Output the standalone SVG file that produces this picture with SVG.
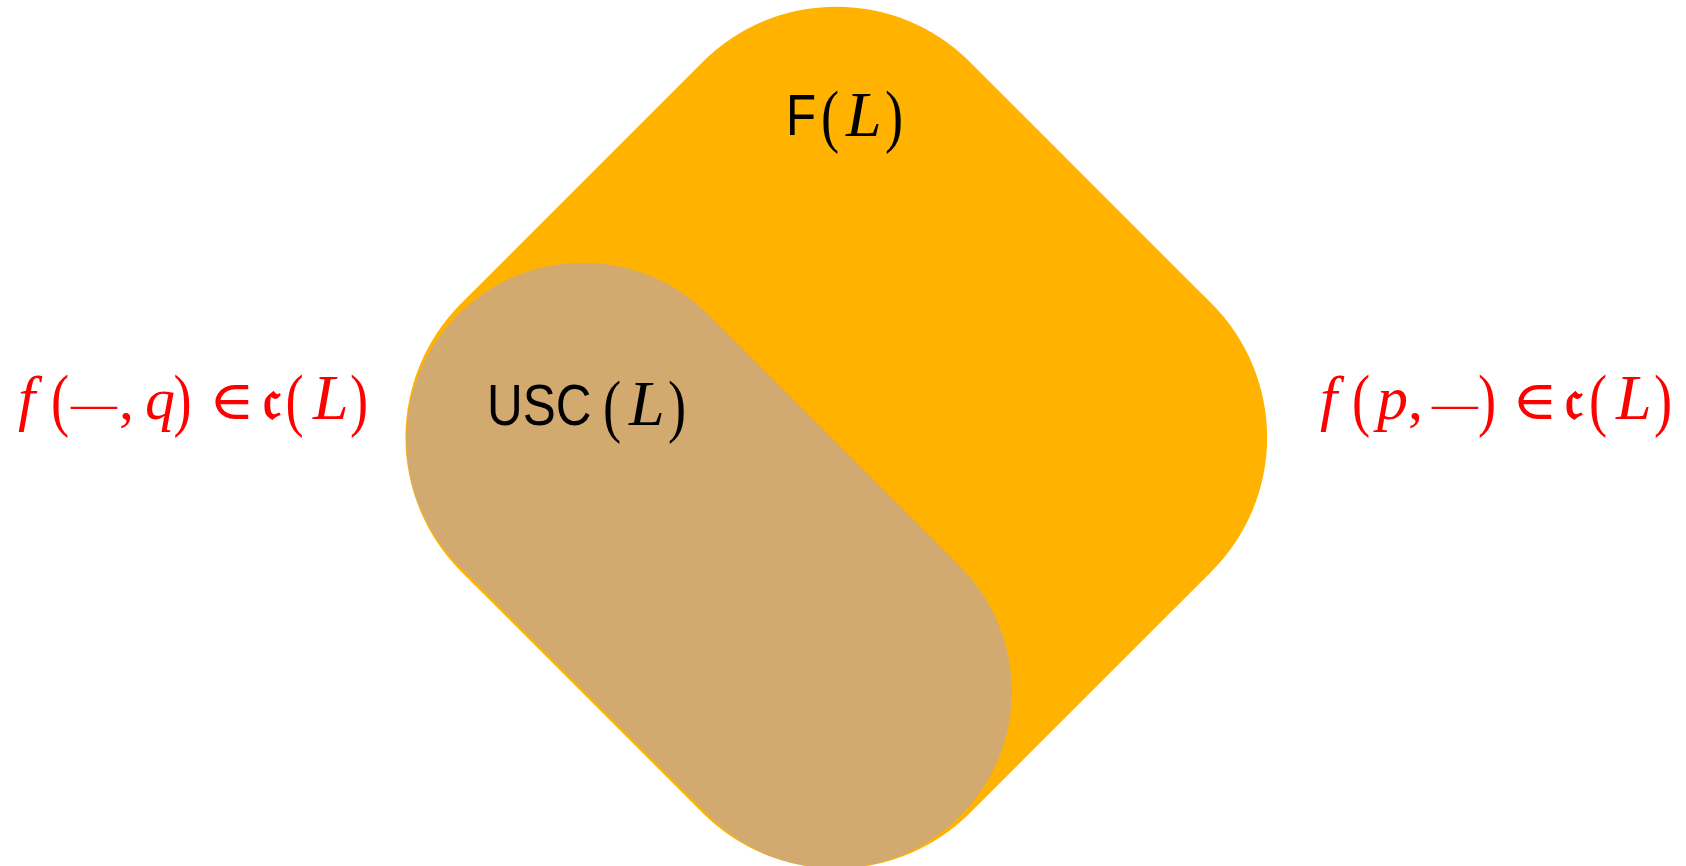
<svg xmlns="http://www.w3.org/2000/svg" width="1686" height="866" viewBox="0 0 1686 866">
<style>
.sans{font-family:"Liberation Sans","DejaVu Sans",sans-serif;font-size:58px;fill:#000}
.it{font-family:"Liberation Serif","DejaVu Serif",serif;font-style:italic;font-size:62px}
.itq{font-family:"Liberation Serif","DejaVu Serif",serif;font-style:italic;font-size:60px}
.itL{font-family:"Liberation Serif","DejaVu Serif",serif;font-style:italic;font-size:64px}
.par{font-family:"Liberation Serif","DejaVu Serif",serif;font-size:64px}
.rm{font-family:"Liberation Serif","DejaVu Serif",serif;font-size:60px}
.dash{font-family:"Liberation Serif","DejaVu Serif",serif;font-size:46px}
.sym{font-family:"DejaVu Serif","Liberation Serif",serif;font-size:54px}
.frak{font-family:"DejaVu Serif","DejaVu Sans","Noto Sans",serif;font-size:56px;font-weight:bold}
.red{fill:#ff0000}
.blk{fill:#000}
</style>
<defs>
<clipPath id="fclip">
<rect x="476.3" y="77.5" width="720" height="720" rx="189" ry="189" transform="rotate(45 836.3 437.5)"/>
</clipPath>
</defs>
<rect width="1686" height="866" fill="#ffffff"/>
<g id="F">
<rect x="476.3" y="77.5" width="720" height="720" rx="189" ry="189" transform="rotate(45 836.3 437.5)" fill="#ffb300"/>
</g>
<g id="USC" clip-path="url(#fclip)">
<rect x="354" y="388.5" width="710" height="354" rx="177" ry="177" transform="rotate(45 709 565.5)" fill="#d2aa70"/>
</g>
<g id="F-label" class="blk">
<text class="sans" transform="translate(786 135) scale(0.85 1)">F</text>
<text class="par" transform="translate(821 139) scale(0.85 1.08)">(</text>
<text class="itL" x="846" y="136">L</text>
<text class="par" transform="translate(885 139) scale(0.85 1.08)">)</text>
</g>
<g id="USC-label" class="blk">
<text class="sans" transform="translate(487 425) scale(0.853 1)">USC</text>
<text class="par" transform="translate(603 429) scale(0.85 1.08)">(</text>
<text class="itL" x="629" y="425">L</text>
<text class="par" transform="translate(668 429) scale(0.85 1.08)">)</text>
</g>
<g id="left-label" class="red">
<text class="it" x="18" y="419">f</text>
<text class="par" transform="translate(51 423) scale(0.85 1.08)">(</text>
<text class="dash" x="71" y="419">—</text>
<text class="rm" x="119" y="419">,</text>
<text class="itq" x="145" y="419">q</text>
<text class="par" transform="translate(173.5 423) scale(0.85 1.08)">)</text>
<text class="sym" transform="translate(209 419) scale(1.15 1)">∈</text>
<text class="frak" x="263" y="419">𝔠</text>
<text class="par" transform="translate(285.5 423) scale(0.85 1.08)">(</text>
<text class="itL" x="313" y="419">L</text>
<text class="par" transform="translate(350 423) scale(0.85 1.08)">)</text>
</g>
<g id="right-label" class="red">
<text class="it" x="1320" y="419">f</text>
<text class="par" transform="translate(1352 423) scale(0.85 1.08)">(</text>
<text class="it" x="1377" y="419">p</text>
<text class="rm" x="1408" y="419">,</text>
<text class="dash" x="1432" y="419">—</text>
<text class="par" transform="translate(1478 423) scale(0.85 1.08)">)</text>
<text class="sym" transform="translate(1512 419) scale(1.15 1)">∈</text>
<text class="frak" x="1565" y="419">𝔠</text>
<text class="par" transform="translate(1589 423) scale(0.85 1.08)">(</text>
<text class="itL" x="1616" y="419">L</text>
<text class="par" transform="translate(1654 423) scale(0.85 1.08)">)</text>
</g>
</svg>
